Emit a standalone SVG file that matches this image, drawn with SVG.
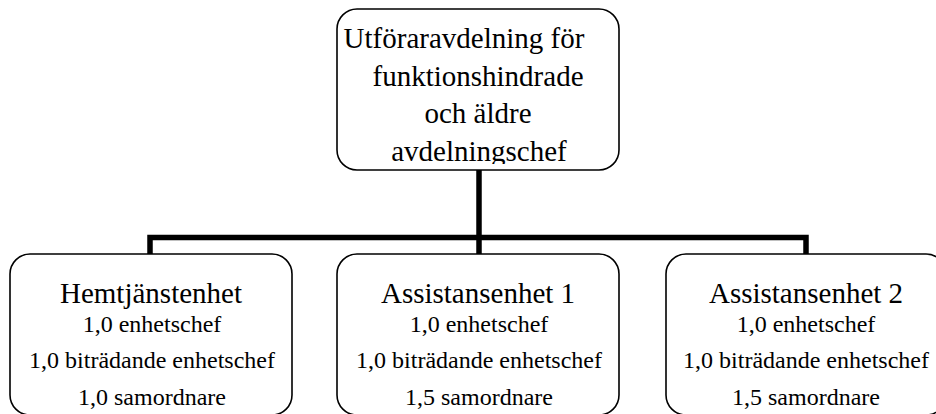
<svg xmlns="http://www.w3.org/2000/svg" width="936" height="414" viewBox="0 0 936 414">
<style>
.box{fill:#fff;stroke:#000;stroke-width:1.6}
.t{font-family:"Liberation Serif","Times New Roman",serif;fill:#000;text-anchor:middle}
.big{font-size:29px}
.small{font-size:24px}
.conn{stroke:#000;stroke-width:5.5;fill:none}
</style>
<defs>
<clipPath id="clipTop"><rect x="330" y="9" width="300" height="155"/></clipPath>
</defs>
<rect width="936" height="414" fill="#fff"/>
<g id="connectors">
<line class="conn" x1="479" y1="170" x2="479" y2="254"/>
<polyline class="conn" points="150,254 150,237.5 806,237.5 806,254"/>
</g>
<g id="top">
<rect class="box" x="337" y="9" width="282" height="161" rx="20"/>
<g clip-path="url(#clipTop)">
<text class="t big" x="464" y="48">Utföraravdelning för</text>
<text class="t big" x="478" y="85.5">funktionshindrade</text>
<text class="t big" x="478" y="123">och äldre</text>
<text class="t big" x="479" y="160.5">avdelningschef</text>
</g>
</g>
<g id="hemtjanst">
<rect class="box" x="10" y="254" width="282" height="161" rx="20"/>
<text class="t big" x="151" y="303">Hemtjänstenhet</text>
<text class="t small" x="152" y="332">1,0 enhetschef</text>
<text class="t small" x="152" y="368">1,0 biträdande enhetschef</text>
<text class="t small" x="152" y="405">1,0 samordnare</text>
</g>
<g id="assistans1">
<rect class="box" x="337" y="254" width="282" height="161" rx="20"/>
<text class="t big" x="478" y="303">Assistansenhet 1</text>
<text class="t small" x="479" y="332">1,0 enhetschef</text>
<text class="t small" x="479" y="368">1,0 biträdande enhetschef</text>
<text class="t small" x="479" y="405">1,5 samordnare</text>
</g>
<g id="assistans2">
<rect class="box" x="666" y="254" width="280" height="161" rx="20"/>
<text class="t big" x="806" y="303">Assistansenhet 2</text>
<text class="t small" x="806" y="332">1,0 enhetschef</text>
<text class="t small" x="806" y="368">1,0 biträdande enhetschef</text>
<text class="t small" x="806" y="405">1,5 samordnare</text>
</g>
</svg>
